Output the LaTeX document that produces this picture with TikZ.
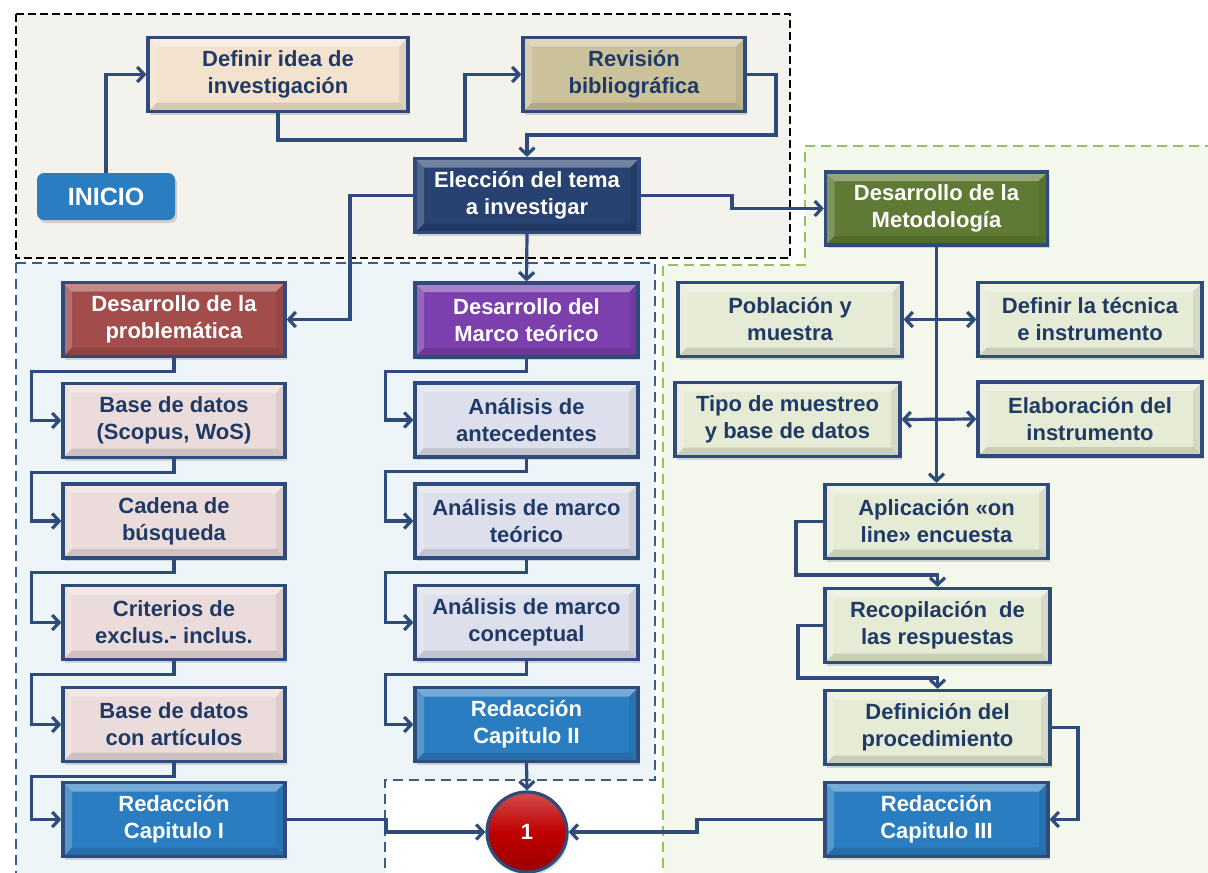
\documentclass[tikz,border=0pt]{standalone}
\usepackage{fontspec}
\setmainfont{Liberation Sans}
\usetikzlibrary{arrows.meta,shadows,calc}

% --- colori -------------------------------------------------------------
\definecolor{borde}{HTML}{2F4B7C}
\definecolor{texto}{HTML}{203A66}
\definecolor{durazno}{HTML}{F3E3CE}
\definecolor{caqui}{HTML}{CBC29C}
\definecolor{marino}{HTML}{274170}
\definecolor{oliva}{HTML}{5F7A34}
\definecolor{vino}{HTML}{A24D4B}
\definecolor{morado}{HTML}{7B40AE}
\definecolor{rosado}{HTML}{EBDCDB}
\definecolor{lavanda}{HTML}{DDE0EC}
\definecolor{verdecla}{HTML}{E5EBD5}
\definecolor{azul}{HTML}{2A7DC1}
\definecolor{rojo}{HTML}{C00000}
\definecolor{fondoA}{HTML}{F3F2EC}
\definecolor{fondoB}{HTML}{EEF5F9}
\definecolor{fondoC}{HTML}{F3F7EC}
\definecolor{lineaB}{HTML}{3E5C80}
\definecolor{lineaC}{HTML}{93C455}

% --- bisel de las cajas ---------------------------------------------------
\def\ppb{path picture bounding box}
\newcommand\bisel{%
  \fill[white,opacity=.35] (\ppb.north west) -- (\ppb.north east)
    -- ([shift={(-9pt,-9pt)}]\ppb.north east) -- ([shift={(9pt,-9pt)}]\ppb.north west) -- cycle;
  \fill[white,opacity=.2] (\ppb.north west) -- (\ppb.south west)
    -- ([shift={(9pt,9pt)}]\ppb.south west) -- ([shift={(9pt,-9pt)}]\ppb.north west) -- cycle;
  \fill[black,opacity=.12] (\ppb.south west) -- (\ppb.south east)
    -- ([shift={(-9pt,9pt)}]\ppb.south east) -- ([shift={(9pt,9pt)}]\ppb.south west) -- cycle;
  \fill[black,opacity=.07] (\ppb.north east) -- (\ppb.south east)
    -- ([shift={(-9pt,9pt)}]\ppb.south east) -- ([shift={(-9pt,-9pt)}]\ppb.north east) -- cycle;}

\tikzset{
  caja/.style={draw=borde, line width=3.2pt, minimum width=222pt, minimum height=74pt,
    align=center, inner sep=2pt, text=texto,
    font=\bfseries\fontsize{22}{27}\selectfont,
    drop shadow={shadow xshift=2pt, shadow yshift=-3pt, opacity=.3},
    path picture={\bisel}},
  oscura/.style={caja, text=white},
  flujo/.style={draw=borde, line width=3.2pt, -{Straight Barb[length=7pt,width=15pt]}},
  doble/.style={flujo, {Straight Barb[length=7pt,width=15pt]}-{Straight Barb[length=7pt,width=15pt]}},
}

\begin{document}
\begin{tikzpicture}[x=1pt,y=-1pt]
        % --- macro riutilizzabili -----------------------------------------
        \def\caja#1#2#3#4#5{\node[#4] (#1) at (#2,#3) {#5};}
        \useasboundingbox (0,0) rectangle (1208,873);
        % --- zone di sfondo ---------------------------------------------------
        \draw[fill=fondoA, line width=2.8pt, dash pattern=on 8pt off 4pt] (16,14) rectangle (790,258);
        \draw[fill=fondoB, draw=lineaB, line width=2.4pt, dash pattern=on 10pt off 6pt]
          (16,263) -- (655,263) -- (655,780) -- (385,780) -- (385,885) -- (16,885) -- cycle;
        \draw[fill=fondoC, draw=lineaC, line width=2.4pt, dash pattern=on 10pt off 6pt]
          (805,146) -- (1220,146) -- (1220,885) -- (663,885) -- (663,265) -- (805,265) -- cycle;
        % --- blocco iniziale ----------------------------------------------------
        \node[fill=azul, rounded corners=7pt, minimum width=138pt, minimum height=47pt,
          text=white, font=\bfseries\fontsize{25}{28}\selectfont,
          drop shadow={shadow xshift=2pt, shadow yshift=-3pt, opacity=.3}] (inicio) at (106,196.5) {INICIO};
        \caja{idea}{278}{74.5}{caja, fill=durazno, minimum width=260pt}{Definir idea de\\investigación}
        \caja{rev}{634}{74.5}{caja, fill=caqui}{Revisión\\bibliográfica}
        \caja{elec}{527}{195.5}{oscura, fill=marino, minimum width=224pt}{Elección del tema\\a investigar}
        \caja{met}{936.5}{208.5}{oscura, fill=oliva, minimum height=73pt}{Desarrollo de la\\Metodología}
        % --- colonna sinistra ------------------------------------------------
        \caja{prob}{174}{319.5}{oscura, fill=vino}{Desarrollo de la\\problemática}
        \caja{base}{174}{420.5}{caja, fill=rosado}{Base de datos\\(Scopus, WoS)}
        \caja{cadena}{174}{521}{caja, fill=rosado}{Cadena de\\búsqueda}
        \caja{crit}{174}{622.5}{caja, fill=rosado}{Criterios de\\exclus.- inclus.}
        \caja{art}{174}{724.5}{caja, fill=rosado}{Base de datos\\con artículos}
        \caja{red1}{174}{819.5}{oscura, fill=azul}{Redacción\\Capitulo I}
        % --- colonna centrale ------------------------------------------------
        \caja{marco}{526.5}{320}{oscura, fill=morado, minimum width=223pt}{Desarrollo del\\Marco teórico}
        \caja{ante}{526.5}{420}{caja, fill=lavanda, minimum width=223pt}{Análisis de\\antecedentes}
        \caja{mteo}{526.5}{521}{caja, fill=lavanda, minimum width=223pt}{Análisis de marco\\teórico}
        \caja{mcon}{526.5}{622.5}{caja, fill=lavanda, minimum width=223pt}{Análisis de marco\\conceptual}
        \caja{red2}{526.5}{724.5}{oscura, fill=azul, minimum width=223pt}{Redacción\\Capitulo II}
        \node[circle, draw=borde, line width=3.2pt, minimum size=80pt, inner sep=0pt,
          top color=rojo!70!white, bottom color=rojo!80!black, middle color=rojo,
          text=white, font=\bfseries\fontsize{22}{27}\selectfont,
          drop shadow={shadow xshift=2pt, shadow yshift=-3pt, opacity=.3}] (uno) at (527,832) {1};
        % --- colonna destra ----------------------------------------------------
        \caja{pob}{790}{319.5}{caja, fill=verdecla, minimum width=224pt}{Población y\\muestra}
        \caja{tec}{1090}{319.5}{caja, fill=verdecla, minimum width=224pt}{Definir la técnica\\e instrumento}
        \caja{tipo}{787.5}{419.5}{caja, fill=verdecla, minimum width=225pt}{Tipo de muestreo\\y base de datos}
        \caja{elab}{1090}{419}{caja, fill=verdecla, minimum width=224pt}{Elaboración del\\instrumento}
        \caja{apl}{936.5}{521.5}{caja, fill=verdecla, minimum width=223pt}{Aplicación «on\\line» encuesta}
        \caja{rec}{937.5}{625.5}{caja, fill=verdecla, minimum width=225pt}{Recopilación \ de\\las respuestas}
        \caja{defp}{937.5}{727.5}{caja, fill=verdecla, minimum width=225pt}{Definición del\\procedimiento}
        \caja{red3}{936.5}{819.5}{oscura, fill=azul, minimum width=223pt}{Redacción\\Capitulo III}
        % --- collegamenti in alto ----------------------------------------------
        \draw[flujo] (inicio.north) |- (idea.west);
        \draw[flujo] (idea.south) |- (465,140) |- (rev.west);
        \draw[flujo] (rev.east) -| (776,135) -| (elec.north);
        \draw[flujo] (elec.east) -| (732,208.5) -- (met.west);
        \draw[flujo] (elec.west) -| (350,319.5) -- (prob.east);
        \draw[flujo] (elec.south) -- (marco.north);
        % --- scale a gradino --------------------------------------------------
        \foreach \a/\b in {prob/base, base/cadena, cadena/crit, crit/art, art/red1}
          \draw[flujo] (\a.south) -- ++(0,13) -| ($(\b.west)+(-30,0)$) -- (\b.west);
        \foreach \a/\b in {marco/ante, ante/mteo, mteo/mcon, mcon/red2}
          \draw[flujo] (\a.south) -- ++(0,13) -| ($(\b.west)+(-28,0)$) -- (\b.west);
        % --- metodologia --------------------------------------------------------
        \draw[flujo] (met.south) -- (apl.north |- met.south) -- (apl.north);
        \draw[doble] (pob.east) -- (tec.west);
        \draw[doble] (tipo.east) -- (elab.west);
        \draw[flujo] (apl.west) -| (796,575) -| (rec.north);
        \draw[flujo] (rec.west) -| (798,678) -| (defp.north);
        \draw[flujo] (defp.east) -| (1078,819.5) -- (red3.east);
        % --- verso il cerchio -----------------------------------------------------
        \draw[flujo] (red1.east) -| (386,832) -- (uno.west);
        \draw[flujo] (red3.west) -| (697,832) -- (uno.east);
        \draw[flujo] (red2.south) -- (uno.north);
    \end{tikzpicture}
\end{document}
